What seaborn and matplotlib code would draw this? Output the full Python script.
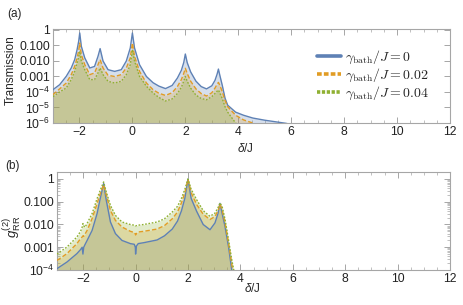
import numpy as np
import seaborn as sns
import matplotlib
matplotlib.use("Agg")
import matplotlib.pyplot as plt
from matplotlib.lines import Line2D
from matplotlib.font_manager import FontProperties
from matplotlib.ticker import LogLocator, MultipleLocator, NullFormatter

# ---- panel (a): transmission, log10 values ----
x_top = [-3, -2.75, -2.5, -2.31, -2.18, -2.09, -2.03, -1.99, -1.93, -1.8,
         -1.61, -1.43, -1.3, -1.22, -1.11, -0.92, -0.67, -0.42, -0.23, -0.08,
         0, 0.08, 0.27, 0.53, 0.78, 1.0, 1.25, 1.5, 1.7, 1.85,
         1.94, 2.0, 2.07, 2.2, 2.4, 2.6, 2.8, 3.0, 3.12, 3.2,
         3.25, 3.3, 3.4, 3.5, 3.6, 3.9, 4.2, 4.55, 5.0, 5.4,
         5.8, 6.5]
trans_g0 = [-3.85, -3.53, -2.99, -2.45, -1.91, -1.27, -0.73, -0.19, -1.05, -1.8,
            -2.45, -2.35, -1.7, -1.2, -2.0, -2.56, -2.67, -2.56, -2.0, -1.16,
            -0.19, -1.16, -2.24, -3.0, -3.4, -3.62, -3.78, -3.58, -3.1, -2.6,
            -2.1, -1.55, -2.1, -2.7, -3.3, -3.65, -3.8, -3.6, -3.25, -2.85,
            -2.52, -2.9, -3.6, -4.4, -4.85, -5.3, -5.5, -5.68, -5.82, -5.92,
            -6.02, -6.3]
trans_g002 = [-4.17, -3.8, -3.42, -2.88, -2.34, -1.8, -1.35, -0.84, -1.59, -2.24,
              -2.88, -2.77, -2.24, -1.91, -2.45, -2.92, -3.0, -2.88, -2.45, -1.8,
              -0.84, -1.7, -2.67, -3.42, -3.85, -4.08, -4.22, -4.05, -3.65, -3.2,
              -2.8, -2.47, -2.8, -3.3, -3.8, -4.1, -4.26, -4.05, -3.75, -3.5,
              -3.38, -3.55, -4.0, -4.55, -4.95, -5.5, -5.8, -6.0, -6.3, -6.6,
              -6.8, -7.1]
trans_g004 = [-4.3, -4.0, -3.74, -3.2, -2.67, -2.13, -1.75, -1.38, -2.0, -2.56,
              -3.2, -3.2, -2.77, -2.45, -2.88, -3.31, -3.42, -3.31, -2.88, -2.24,
              -1.27, -2.0, -3.0, -3.63, -4.06, -4.35, -4.58, -4.45, -4.1, -3.7,
              -3.3, -3.0, -3.3, -3.75, -4.2, -4.42, -4.5, -4.3, -4.1, -3.95,
              -3.87, -4.05, -4.45, -4.95, -5.3, -6.0, -6.4, -6.7, -7.0, -7.2,
              -7.4, -7.7]

# ---- panel (b): g2_RR, log10 ----
x_bot = [-3, -2.62, -2.24, -2.1, -2.04, -2.01, -1.98, -1.93, -1.85, -1.66,
         -1.47, -1.35, -1.22, -1.12, -0.96, -0.77, -0.52, -0.2, -0.05, -0.01,
         0.0, 0.03, 0.1, 0.31, 0.82, 1.1, 1.4, 1.6, 1.75, 1.88,
         2.0, 2.12, 2.33, 2.58, 2.84, 3.03, 3.15, 3.22, 3.3, 3.41,
         3.55, 3.67, 3.85, 4.0]
g2_g0 = [-3.94, -3.65, -3.28, -3.1, -3.0, -3.3, -3.0, -2.88, -2.7, -2.26,
         -1.52, -0.86, -0.2, -0.93, -1.89, -2.4, -2.7, -2.84, -2.87, -3.0,
         -3.3, -2.95, -2.84, -2.8, -2.68, -2.5, -2.2, -1.85, -1.4, -0.85,
         0.0, -0.85, -1.42, -2.0, -2.23, -1.93, -1.5, -1.07, -1.5, -2.07,
         -3.0, -4.0, -5.4, -6.4]
g2_g002 = [-3.58, -3.28, -2.84, -2.62, -2.55, -2.5, -2.52, -2.42, -2.26, -1.74,
           -1.08, -0.65, -0.26, -0.7, -1.38, -1.82, -2.11, -2.3, -2.35, -2.42,
           -2.46, -2.4, -2.33, -2.3, -2.2, -2.05, -1.75, -1.45, -1.05, -0.6,
           -0.02, -0.6, -1.12, -1.55, -1.78, -1.65, -1.38, -1.1, -1.35, -1.9,
           -2.85, -3.75, -4.9, -6.0]
g2_g004 = [-3.3, -2.99, -2.55, -2.3, -2.12, -1.96, -2.05, -2.12, -1.95, -1.52,
           -0.86, -0.5, -0.13, -0.57, -1.16, -1.6, -1.89, -2.0, -2.03, -2.05,
           -2.06, -2.05, -2.03, -2.0, -1.89, -1.75, -1.45, -1.2, -0.85, -0.45,
           0.0, -0.45, -0.91, -1.39, -1.64, -1.5, -1.25, -1.05, -1.2, -1.75,
           -2.7, -3.55, -4.6, -5.7]

labels = [r"$\gamma_{\mathrm{bath}}/J = 0$", r"$\gamma_{\mathrm{bath}}/J = 0.02$",
          r"$\gamma_{\mathrm{bath}}/J = 0.04$"]
colors = ["#5E81B5", "#E19C24", "#8FB032"]
styles = ["-", (0, (3.2, 1.6)), (0, (1.2, 1.2))]

sns.set_theme(style="ticks")
plt.rcParams["font.family"] = ["Liberation Sans", "DejaVu Sans"]
plt.rcParams["mathtext.fontset"] = "custom"
plt.rcParams["mathtext.rm"] = "Liberation Sans"
plt.rcParams["mathtext.it"] = "Liberation Sans:italic"
plt.rcParams["mathtext.bf"] = "Liberation Sans:bold"

frame_col = "#a6a6a6"
tick_fs = 8.8

fig = plt.figure(figsize=(4.63, 3.05), dpi=100)
ax1 = fig.add_axes([53 / 463, 1 - 123 / 305, 397 / 463, 94 / 305])
ax2 = fig.add_axes([57 / 463, 1 - 270 / 305, 393 / 463, 98 / 305])


def draw(ax, xs, series, floor):
    for ys, c in zip(series, colors):
        vals = 10.0 ** np.array(ys)
        ax.fill_between(xs, vals, floor, color=c, alpha=0.25, lw=0, zorder=1)
    for ys, c, ls in zip(series, colors, styles):
        vals = 10.0 ** np.array(ys)
        sns.lineplot(x=xs, y=vals, ax=ax, color=c, linestyle=ls, lw=1.0,
                     legend=False, zorder=3, sort=False)


draw(ax1, x_top, [trans_g0, trans_g002, trans_g004], 1e-12)
draw(ax2, x_bot, [g2_g0, g2_g002, g2_g004], 1e-12)

for ax in (ax1, ax2):
    ax.set_yscale("log")
    ax.set_xlim(-3, 12)
    ax.set_xticks([-2, 0, 2, 4, 6, 8, 10, 12])
    ax.xaxis.set_minor_locator(MultipleLocator(0.5))
    ax.yaxis.set_minor_locator(LogLocator(base=10, subs=np.arange(2, 10)))
    ax.yaxis.set_minor_formatter(NullFormatter())
    ax.tick_params(which="both", direction="in", top=True, right=True,
                   color=frame_col, labelsize=tick_fs, labelcolor="#222222", pad=2)
    ax.tick_params(which="major", length=4, width=0.7)
    ax.tick_params(which="minor", length=2, width=0.5)
    for s in ax.spines.values():
        s.set_color(frame_col)
        s.set_linewidth(0.8)
    ax.set_xlabel(r"$\delta$/J", fontsize=8.5)

ax1.set_ylim(1e-6, 1.16)
ax1.set_yticks([1e-6, 1e-5, 1e-4, 1e-3, 1e-2, 1e-1, 1],
               [r"$10^{-6}$", r"$10^{-5}$", r"$10^{-4}$", "0.001", "0.010", "0.100", "1"])
ax2.set_ylim(1e-4, 2.03)
ax2.set_yticks([1e-4, 1e-3, 1e-2, 1e-1, 1],
               [r"$10^{-4}$", "0.001", "0.010", "0.100", "1"])

ax1.set_ylabel("Transmission", fontsize=8.5)
ax1.yaxis.set_label_coords(-0.09, 0.56)
ax2.set_ylabel(r"$g^{(2)}_{\mathrm{RR}}$", fontsize=9.5)
ax2.yaxis.set_label_coords(-0.087, 0.44)
ax1.xaxis.set_label_coords(0.484, -0.202)
ax2.xaxis.set_label_coords(0.496, -0.122)

fig.text(7 / 463, 1 - 14 / 305, "(a)", fontsize=8.5, va="center", ha="left")
fig.text(5 / 463, 1 - 166 / 305, "(b)", fontsize=8.5, va="center", ha="left")

handles = [Line2D([], [], color=colors[0], lw=2.6),
           Line2D([], [], color=colors[1], lw=2.6, linestyle=(0, (1.3, 0.6))),
           Line2D([], [], color=colors[2], lw=2.6, linestyle=(0, (0.9, 0.45)))]
ax1.legend(handles, labels, loc="upper left", bbox_to_anchor=(0.665, 0.785),
           frameon=False, borderpad=0, borderaxespad=0, handlelength=1.75,
           handletextpad=0.25, labelspacing=0.05,
           prop=FontProperties(size=10, math_fontfamily="cm"))

fig.savefig("out.png", dpi=100)
